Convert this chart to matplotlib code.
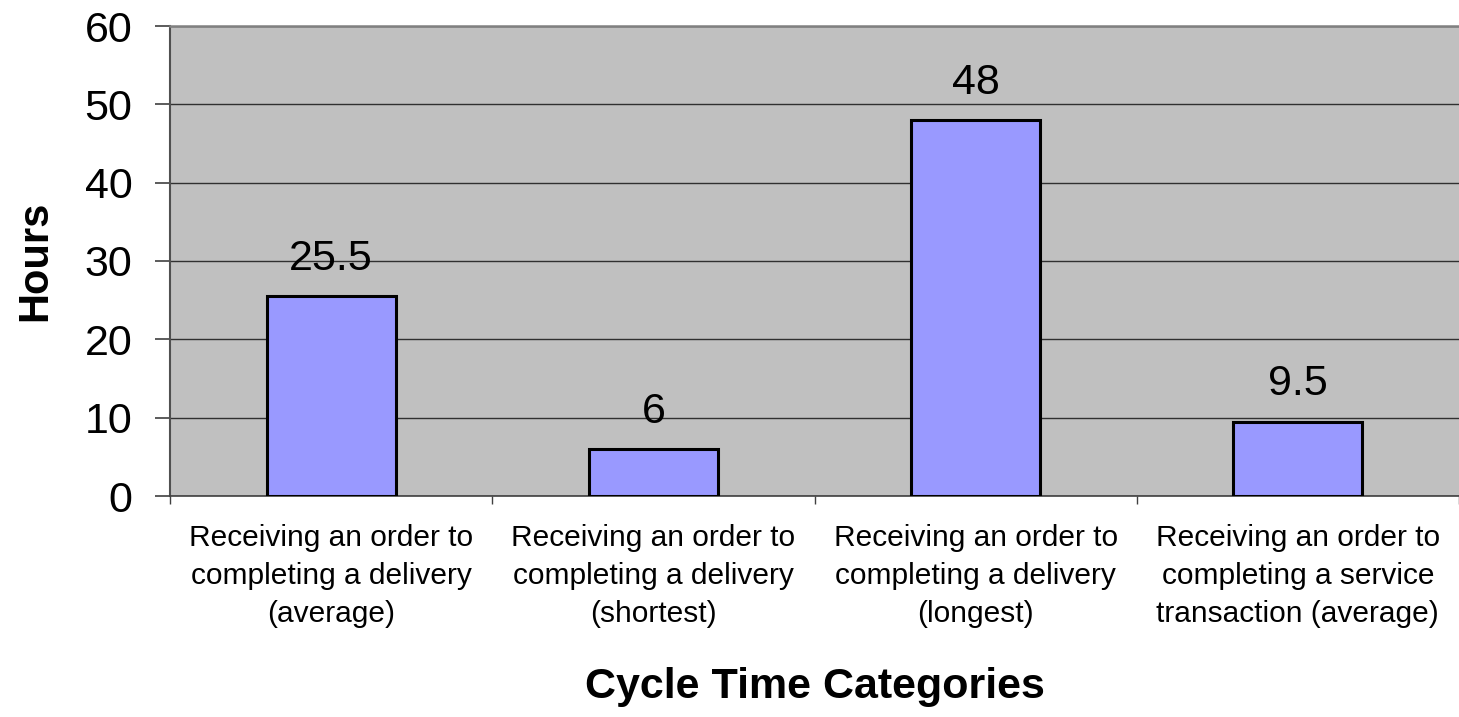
import matplotlib
matplotlib.use("Agg")
import matplotlib.pyplot as plt

categories = [
    "Receiving an order to\ncompleting a delivery\n(average)",
    "Receiving an order to\ncompleting a delivery\n(shortest)",
    "Receiving an order to\ncompleting a delivery\n(longest)",
    "Receiving an order to\ncompleting a service\ntransaction (average)",
]
hours = [25.5, 6, 48, 9.5]
value_labels = ["25.5", "6", "48", "9.5"]
y_ticks = [0, 10, 20, 30, 40, 50, 60]

plt.rcParams["font.family"] = ["Liberation Sans", "DejaVu Sans"]

W, H = 1459, 717
fig = plt.figure(figsize=(W / 100, H / 100), dpi=100)
ax = fig.add_axes([170 / W, 1 - 496 / H, (W - 170) / W, (496 - 26) / H])
ax.set_facecolor("#C0C0C0")

x = list(range(len(categories)))
ax.bar(x, hours, width=0.4, color="#9999FF", edgecolor="black", linewidth=2.2, zorder=3)

for xi, v, lab in zip(x, hours, value_labels):
    ax.annotate(lab, (xi, v), xytext=(0, 19), textcoords="offset points",
                ha="center", va="baseline", fontsize=31)

ax.set_xlim(-0.5, len(categories) - 0.5)
ax.set_ylim(0, 60)
ax.set_yticks(y_ticks)
ax.set_yticklabels([str(t) for t in y_ticks], fontsize=31)
ax.yaxis.grid(True, color="#303030", linewidth=1.0, zorder=0)
ax.set_axisbelow(True)

# category ticks sit on the boundaries between groups
ax.set_xticks([i - 0.5 for i in range(len(categories) + 1)], minor=False)
ax.set_xticklabels([])
ax.set_xticks(x, minor=True)
ax.set_xticklabels(categories, minor=True, fontsize=21.5, linespacing=1.45)
ax.tick_params(axis="x", which="major", length=6, color="#404040", width=1)
ax.tick_params(axis="x", which="minor", length=0, pad=20)
ax.tick_params(axis="y", length=11, color="#404040", width=1.2, pad=16)

ax.spines["right"].set_visible(False)
ax.spines["top"].set_color("#808080")
ax.spines["top"].set_linewidth(1.8)
ax.spines["left"].set_color("#505050")
ax.spines["left"].set_linewidth(1.5)
ax.spines["bottom"].set_color("#404040")
ax.spines["bottom"].set_linewidth(1.2)

ax.set_ylabel("Hours", fontsize=30, fontweight="bold", va="center")
ax.yaxis.set_label_coords(-(170 - 35) / (W - 170), 0.5)

ax.set_xlabel("Cycle Time Categories", fontsize=31, fontweight="bold", va="top")
ax.xaxis.set_label_coords(0.5, -(668 - 496 - 1) / 470)

fig.savefig("out.png", dpi=100, facecolor="white")
